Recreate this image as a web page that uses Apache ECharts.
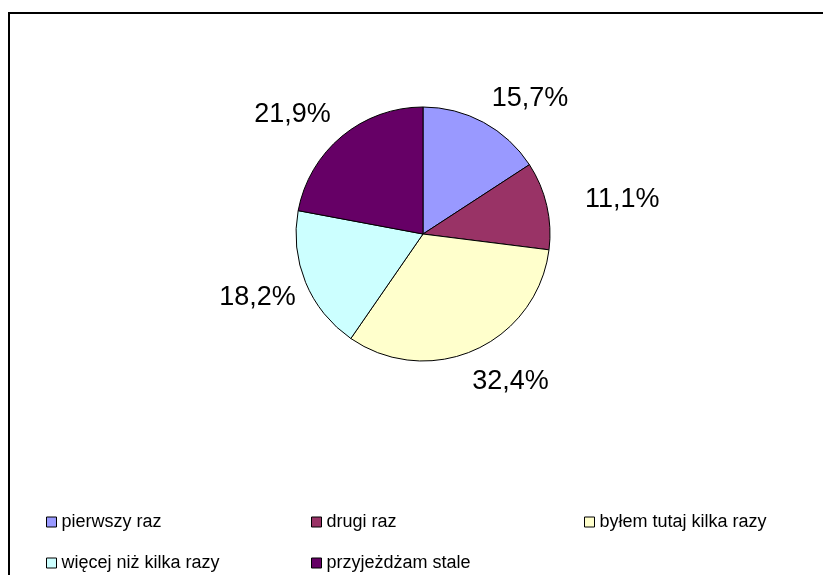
<!DOCTYPE html>
<html>
<head>
<meta charset="utf-8">
<script src="https://cdn.jsdelivr.net/npm/echarts@6/dist/echarts.min.js"></script>
<style>
html,body{margin:0;padding:0;background:#fff;}
#chart{width:823px;height:575px;}
</style>
</head>
<body>
<div id="chart"></div>
<script>
var categories = ['pierwszy raz', 'drugi raz', 'byłem tutaj kilka razy', 'więcej niż kilka razy', 'przyjeżdżam stale'];
var values = [15.7, 11.1, 32.4, 18.2, 21.9];
var colors = ['#9999FF', '#993366', '#FFFFCC', '#CCFFFF', '#660066'];

var labelShift = [[-11, 3], [4, 1], [-20, 4], [23, 4], [13, 1]];
var legendSlots = [[46, 513], [311, 513], [584, 513], [46, 554], [311, 554]];

var chart = echarts.init(document.getElementById('chart'), null, {renderer: 'canvas'});

var pieData = categories.map(function (c, i) {
  return {name: c, value: values[i], itemStyle: {color: colors[i]}};
});

var legends = categories.map(function (c, i) {
  return {
    orient: 'horizontal',
    left: legendSlots[i][0],
    top: legendSlots[i][1],
    padding: 0,
    itemWidth: 10,
    itemHeight: 10,
    icon: 'rect',
    data: [c],
    itemStyle: {borderColor: '#000', borderWidth: 1},
    textStyle: {fontFamily: 'Liberation Sans, Arial, sans-serif', fontSize: 18, color: '#000'},
    selectedMode: false
  };
});

chart.setOption({
  animation: false,
  backgroundColor: '#fff',
  graphic: [{
    type: 'rect',
    shape: {x: 9, y: 13, width: 900, height: 700},
    style: {fill: 'none', stroke: '#000', lineWidth: 2},
    silent: true
  }],
  legend: legends,
  series: [{
    type: 'pie',
    center: [423, 234],
    radius: 127,
    startAngle: 90,
    clockwise: true,
    avoidLabelOverlap: false,
    data: pieData,
    itemStyle: {borderColor: '#000', borderWidth: 1},
    emphasis: {disabled: true},
    label: {
      show: true,
      position: 'outside',
      color: '#000',
      fontFamily: 'Liberation Sans, Arial, sans-serif',
      fontSize: 27,
      distanceToLabelLine: 5,
      formatter: function (p) { return p.value.toFixed(1).replace('.', ',') + '%'; }
    },
    labelLine: {show: false, length: 30, length2: 0},
    labelLayout: function (params) {
      var s = labelShift[params.dataIndex];
      return {dx: s[0], dy: s[1]};
    }
  }]
});
</script>
</body>
</html>
